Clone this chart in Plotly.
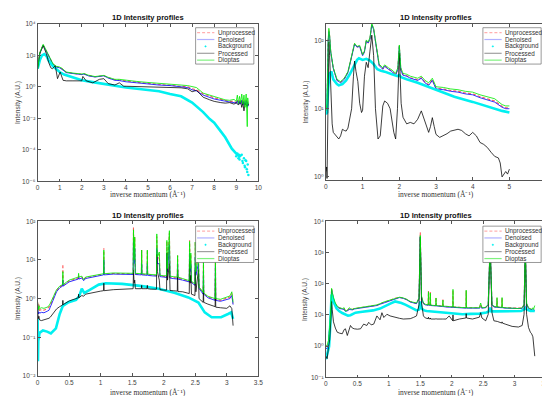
import math
import plotly.graph_objects as go

W, H = 550, 396

# ---------------- Panel 1 (top-left) ----------------
p1_x = [0, 0.1, 0.25, 0.4, 0.5, 0.7, 0.85, 1.0, 1.1, 1.3, 1.6, 2.0, 2.1, 2.3, 2.6, 2.8, 3.0, 3.2, 3.5, 3.7,
        4.0, 4.5, 5.0, 5.5, 6.0, 6.5, 6.8, 7.0, 7.2, 7.5, 7.8, 8.0, 8.3, 8.5, 8.7, 8.9, 9.0, 9.05, 9.1, 9.15,
        9.2, 9.25, 9.3, 9.35, 9.4, 9.45, 9.5, 9.52, 9.55]
p1_dioptas = [14, 150, 500, 200, 93, 28, 20, 18, 15, 8.7, 7.5, 6.5, 7.0, 5.5, 4.5, 5.0, 5.3, 4.0, 3.0, 3.0,
              2.6, 2.2, 1.9, 1.7, 1.6, 1.3, 1.2, 1.0, 0.9, 0.4, 0.3, 0.24, 0.2, 0.15, 0.14, 0.16, 0.12, 0.3, 0.09, 0.25,
              0.1, 0.35, 0.08, 0.3, 0.05, 0.35, 0.003, 0.2, 0.08]
p1_denoised = [14, 140, 430, 180, 85, 26, 18, 16, 13, 8, 7, 6, 6.5, 5, 4.2, 4.8, 5.0, 3.6, 2.6, 2.5,
               2.1, 1.8, 1.5, 1.3, 1.2, 1.0, 0.9, 0.65, 0.55, 0.3, 0.22, 0.17, 0.14, 0.12, 0.11, 0.1, 0.09, 0.13, 0.08, 0.12,
               0.08, 0.14, 0.07, 0.12, 0.07, 0.13, 0.05, 0.1, 0.06]
p1_unprocessed = [14, 145, 450, 185, 88, 27, 19, 17, 14, 8.3, 7.2, 6.2, 6.7, 5.2, 4.4, 5.0, 5.1, 3.8, 2.8, 2.7,
                  2.3, 1.95, 1.65, 1.45, 1.35, 1.15, 1.0, 0.75, 0.65, 0.35, 0.27, 0.2, 0.16, 0.14, 0.12, 0.12, 0.1, 0.15, 0.09, 0.14,
                  0.09, 0.16, 0.08, 0.14, 0.08, 0.15, 0.06, 0.12, 0.07]
p1_proc_x = [0, 0.1, 0.25, 0.4, 0.5, 0.6, 0.67, 0.8, 0.9, 1.02, 1.15, 1.3, 1.6, 1.9, 2.0, 2.05, 2.2, 2.5, 2.8, 3.0,
             3.2, 3.5, 3.7, 3.9, 4.5, 5.0, 5.5, 6.0, 6.5, 6.8, 7.0, 7.2, 7.5, 7.8, 8.0, 8.3, 8.5, 8.7, 8.9, 9.0,
             9.1, 9.2, 9.25, 9.3, 9.35, 9.4, 9.5, 9.55]
p1_processed = [14, 130, 430, 120, 35, 16, 14, 22, 3.3, 8.7, 2.6, 2.4, 2.4, 2.3, 2.4, 4.6, 2.4, 1.8, 3.0, 3.3,
                1.6, 1.3, 1.8, 1.1, 1.05, 1.0, 0.95, 0.91, 0.87, 0.75, 0.49, 0.6, 0.22, 0.15, 0.12, 0.1, 0.093, 0.1, 0.08, 0.1,
                0.07, 0.12, 0.05, 0.1, 0.03, 0.09, 0.06, 0.08]
p1_bg_x = [0, 0.1, 0.2, 0.3, 0.4, 0.5, 0.7, 1.0, 1.2, 1.5, 2.0, 2.5, 3.0, 3.5, 4.0, 4.5, 5.0, 5.5, 6.0, 6.5,
           7.0, 7.2, 7.5, 7.8, 8.0, 8.3, 8.5, 8.8, 9.0, 9.2]
p1_background = [14, 50, 100, 120, 90, 46, 20, 8.7, 6, 4.2, 2.6, 2.0, 1.5, 1.2, 0.91, 0.75, 0.63, 0.52, 0.35, 0.25,
                 0.1, 0.06, 0.025, 0.009, 0.0054, 0.0015, 0.00063, 0.00012, 5.8e-5, 3.5e-5]
p1_bg_tail_x = [9.0, 9.05, 9.1, 9.12, 9.15, 9.2, 9.25, 9.28, 9.3, 9.35, 9.38, 9.4, 9.42, 9.45, 9.48, 9.5, 9.52, 9.55]
p1_bg_tail = [4e-5, 6e-5, 3e-5, 5e-5, 2.5e-5, 4.5e-5, 5e-5, 2e-5, 1.5e-5, 3e-5, 1e-5, 8e-6, 2.2e-5, 2e-5, 6e-6, 4e-6, 1.2e-5, 2.6e-6]

# ---------------- Panel 2 (top-right) ----------------
p2_x = [0, 0.03, 0.06, 0.08, 0.1, 0.13, 0.2, 0.3, 0.4, 0.5, 0.6, 0.7, 0.78, 0.85, 0.92, 1.0, 1.05, 1.1, 1.15, 1.2,
        1.25, 1.3, 1.38, 1.45, 1.55, 1.6, 1.7, 1.8, 1.9, 1.96, 2.0, 2.04, 2.1, 2.2, 2.3, 2.4, 2.5, 2.6, 2.7, 2.8,
        2.9, 3.0, 3.2, 3.4, 3.6, 3.8, 4.0, 4.2, 4.4, 4.6, 4.8, 4.9, 5.0]
p2_dioptas = [9.3, 12, 100, 151, 120, 70, 40, 27, 25, 28, 35, 60, 91, 82, 85, 62, 70, 102, 95, 110,
              178, 150, 80, 45, 40, 44, 40, 37, 33, 40, 86, 40, 33, 32, 30, 29, 28, 30, 26, 24,
              28, 21, 20.5, 19.5, 19, 18, 17.5, 16, 15, 14, 11.5, 11, 11]
p2_denoised = [9.0, 11, 95, 135, 115, 68, 39, 26, 24, 27, 34, 58, 88, 80, 82, 60, 68, 98, 92, 105,
               170, 145, 78, 43, 38, 42, 38, 35, 31, 38, 82, 37, 31, 30, 28, 27, 26, 28, 24, 22,
               26, 19.5, 19, 18, 17.5, 16.5, 16, 14.5, 13.5, 12.5, 10.5, 10, 10]
p2_unprocessed = [9.1, 11.2, 97, 140, 117, 69, 39.5, 26.5, 24.5, 27.5, 34.5, 59, 89, 81, 83, 61, 69, 99, 93, 107,
                  173, 147, 79, 44, 38.5, 42.5, 38.5, 35.5, 31.5, 38.5, 83, 37.5, 31.5, 30.5, 28.5, 27.5, 26.5, 28.5, 24.5, 22.5,
                  26.5, 20, 19.5, 18.5, 18, 17, 16.5, 15, 14, 13, 10.8, 10.3, 10.3]
p2_bg_x = [0, 0.03, 0.06, 0.1, 0.15, 0.2, 0.3, 0.35, 0.45, 0.55, 0.65, 0.75, 0.85, 0.9, 1.0, 1.1, 1.2, 1.3, 1.4, 1.5,
           1.6, 1.8, 1.95, 2.0, 2.05, 2.2, 2.5, 3.0, 3.5, 4.0, 4.5, 4.8, 5.0]
p2_background = [8.3, 8.8, 20, 33, 35, 27, 23, 22, 23, 26, 32, 42, 52, 55, 52, 54, 51, 45, 38, 36,
                 35, 32, 30, 31, 29, 27, 24, 19, 15, 12.6, 10.3, 9.3, 8.8]
p2_proc_x = [0, 0.02, 0.03, 0.05, 0.07, 0.08, 0.1, 0.13, 0.17, 0.2, 0.25, 0.3, 0.35, 0.4, 0.45, 0.5, 0.55, 0.6, 0.7, 0.75,
             0.78, 0.82, 0.87, 0.92, 0.97, 1.0, 1.05, 1.1, 1.15, 1.2, 1.25, 1.3, 1.35, 1.42, 1.48, 1.55, 1.6, 1.68, 1.75, 1.85,
             1.9, 1.95, 2.0, 2.05, 2.1, 2.2, 2.3, 2.4, 2.5, 2.6, 2.7, 2.8, 2.85, 2.9, 2.95, 3.0, 3.1, 3.2, 3.3, 3.4,
             3.5, 3.6, 3.7, 3.8, 3.9, 4.0, 4.1, 4.2, 4.3, 4.4, 4.5, 4.6, 4.7, 4.75, 4.8, 4.85, 4.9, 4.95, 5.0]
p2_processed = [1.2, 1.4, 0.95, 10, 70, 95, 60, 20, 6, 4.5, 4.2, 3.8, 3.6, 4.0, 5.0, 4.8, 4.7, 5.2, 10, 30,
                50, 35, 25, 12, 8.8, 9.5, 30, 48, 40, 70, 120, 60, 10, 3.6, 4.0, 11, 13, 12, 10, 4.5,
                3.6, 10, 65, 12, 7.5, 6.0, 6.3, 6.0, 7.0, 9.3, 6.5, 4.5, 5.5, 7.4, 5.5, 4.2, 3.8, 4.0, 4.3, 4.7,
                4.8, 5.0, 4.8, 4.3, 4.0, 4.5, 4.0, 3.2, 3.0, 2.7, 2.3, 2.0, 1.9, 1.6, 1.0, 1.1, 1.2, 1.1, 1.3]

# ---------------- Panel 3 (bottom-left) ----------------
p3_x = [0, 0.01, 0.02, 0.03, 0.06, 0.1, 0.15, 0.18, 0.2, 0.25, 0.3, 0.35,
        0.395, 0.4, 0.405,
        0.5, 0.6, 0.645, 0.65, 0.655, 0.7, 0.73, 0.76, 0.8, 0.9, 1.0,
        1.045, 1.05, 1.055,
        1.2, 1.35, 1.5,
        1.515, 1.52, 1.53, 1.54, 1.55,
        1.645, 1.65, 1.655,
        1.735, 1.74, 1.745,
        1.8,
        1.885, 1.89, 1.9, 1.93, 1.94,
        2.0,
        2.045, 2.05, 2.06, 2.09, 2.1,
        2.15,
        2.215, 2.22, 2.225,
        2.3,
        2.405, 2.41, 2.42, 2.43, 2.44,
        2.495, 2.5, 2.51, 2.55, 2.56,
        2.6,
        2.625, 2.63, 2.635,
        2.7,
        2.815, 2.82, 2.825,
        2.9, 3.0, 3.05, 3.08, 3.1]
p3_dioptas = [0.79, 0.5, 0.65, 0.55, 0.58, 0.56, 0.6, 0.65, 0.75, 1.15, 1.7, 2.1,
              2.3, 5.0, 2.3,
              3.0, 3.4, 3.6, 4.5, 3.6, 3.8, 3.1, 3.6, 3.7, 4.0, 4.3,
              4.4, 18, 4.4,
              4.6, 4.6, 4.5,
              4.5, 60, 10, 39, 4.5,
              4.4, 18, 4.4,
              4.3, 18, 4.3,
              4.2,
              4.1, 47, 12, 16, 4.0,
              3.9,
              3.9, 32, 6, 57, 3.8,
              3.7,
              3.6, 13, 3.6,
              3.3,
              2.9, 30, 6, 15, 2.8,
              2.4, 29, 5, 15, 2.0,
              1.6,
              1.45, 9, 1.4,
              1.15,
              1.0, 14, 1.0,
              0.96, 1.07, 1.17, 1.5, 0.8]
p3_unprocessed = [0.8, 0.55, 0.7, 0.5, 0.52, 0.5, 0.55, 0.6, 0.68, 1.05, 1.6, 2.0,
                  2.2, 7.7, 2.2,
                  2.85, 3.2, 3.4, 4.0, 3.4, 3.6, 3.0, 3.45, 3.55, 3.85, 4.15,
                  4.25, 20, 4.25,
                  4.45, 4.45, 4.35,
                  4.35, 69, 10, 39, 4.35,
                  4.25, 18, 4.25,
                  4.15, 18, 4.15,
                  4.05,
                  3.95, 40, 10, 14, 3.85,
                  3.75,
                  3.7, 30, 6, 50, 3.6,
                  3.5,
                  3.4, 13, 3.4,
                  3.15,
                  2.8, 32, 6, 14, 2.7,
                  2.3, 29, 5, 14, 1.95,
                  1.55,
                  1.4, 9, 1.35,
                  1.1,
                  0.95, 14, 0.95,
                  0.9, 1.0, 1.1, 1.35, 0.75]
p3_denoised = [0.72, 0.4, 0.45, 0.42, 0.44, 0.43, 0.47, 0.5, 0.6, 0.95, 1.5, 1.9,
               2.1, 3.0, 2.1,
               2.7, 3.0, 3.2, 3.5, 3.2, 3.4, 2.9, 3.3, 3.4, 3.7, 4.0,
               4.1, 10, 4.1,
               4.3, 4.3, 4.2,
               4.2, 30, 8, 20, 4.2,
               4.1, 8, 4.1,
               4.0, 8, 4.0,
               3.9,
               3.8, 20, 8, 8, 3.7,
               3.6,
               3.5, 15, 5, 25, 3.4,
               3.3,
               3.2, 8, 3.2,
               3.0,
               2.7, 15, 5, 8, 2.6,
               2.2, 12, 4, 8, 1.85,
               1.45,
               1.3, 5, 1.3,
               1.05,
               0.9, 7, 0.9,
               0.85, 0.95, 1.0, 1.2, 0.7]
p3_processed = [0.5, 0.3, 0.35, 0.28, 0.27, 0.28, 0.3, 0.31, 0.33, 0.42, 0.54, 0.62,
                0.68, 0.9, 0.7,
                0.87, 1.0, 1.05, 1.3, 1.05, 1.2, 1.15, 1.3, 1.35, 1.45, 1.56,
                1.6, 2.5, 1.6,
                1.7, 1.75, 1.8,
                1.8, 5.5, 2.5, 3.0, 1.8,
                1.8, 2.2, 1.8,
                1.8, 2.2, 1.8,
                1.75,
                1.75, 14, 5, 3, 1.7,
                1.66,
                1.65, 15, 3, 8, 1.62,
                1.6,
                1.56, 5.5, 1.52,
                1.5,
                1.35, 9, 2.5, 4, 1.3,
                1.2, 5.5, 1.5, 5.5, 1.0,
                0.87,
                0.8, 2.0, 0.8,
                0.72,
                0.62, 3.2, 0.6,
                0.58, 0.56, 0.65, 0.55, 0.2]
p3_bg_x = [0, 0.005, 0.01, 0.03, 0.084, 0.15, 0.21, 0.29, 0.35, 0.4, 0.48, 0.61, 0.66, 0.7, 0.74, 0.82, 0.97, 1.08, 1.34,
           1.66, 1.92, 2.18, 2.39, 2.55, 2.65, 2.76, 2.91, 3.02, 3.07, 3.1]
p3_background = [0.3, 0.024, 0.08, 0.13, 0.15, 0.14, 0.125, 0.17, 0.4, 0.65, 0.79, 0.93, 1.17, 1.8, 1.4, 1.66, 2.3, 2.5, 2.4,
                 2.1, 1.8, 1.4, 1.07, 0.79, 0.44, 0.33, 0.33, 0.4, 0.44, 0.3]

# ---------------- Panel 4 (bottom-right) ----------------
p4_x = [0, 0.02, 0.04, 0.06, 0.08, 0.09, 0.1, 0.12, 0.15, 0.18, 0.22, 0.26, 0.29, 0.31, 0.34, 0.37, 0.39, 0.42, 0.45, 0.5,
        0.55, 0.6, 0.65, 0.68, 0.72, 0.76, 0.81, 0.86, 0.89, 0.92, 0.97, 1.02, 1.1, 1.17, 1.23, 1.28, 1.34, 1.39, 1.44, 1.48,
        1.5, 1.52, 1.55, 1.58, 1.625, 1.63, 1.635, 1.655, 1.66, 1.665, 1.745, 1.75, 1.755, 1.855, 1.86, 1.865, 1.91, 1.96, 2.015, 2.02,
        2.025, 2.12, 2.225, 2.23, 2.235, 2.33, 2.44, 2.46, 2.48, 2.54, 2.58, 2.61, 2.64, 2.67, 2.715, 2.72, 2.725, 2.795, 2.8, 2.805,
        2.85, 2.96, 3.06, 3.12, 3.15, 3.17, 3.19, 3.22, 3.25, 3.27, 3.29, 3.3, 3.32]
p4_dioptas = [0.98, 1.1, 1.5, 4, 20, 71, 55, 35, 24, 19, 17, 16, 17, 13.3, 14, 17, 16, 15, 16, 16.5,
              17, 18, 18.5, 19, 19, 20, 21, 23, 25, 26, 28, 30, 35, 37, 35, 32, 27, 25, 24, 35,
              3500, 40, 24, 22, 21, 55, 21, 21, 50, 20.5, 20, 35, 20, 19, 30, 19, 19, 18.5, 18, 66,
              18, 17.5, 17, 62, 17, 17, 17, 24, 17, 17.5, 22, 1800, 22, 19, 18, 36, 18, 17.5, 36, 17.5,
              17, 16.5, 16, 17, 22, 1500, 24, 17, 16, 15, 17, 15, 20]
p4_denoised = [0.9, 0.8, 1.2, 3.5, 18, 65, 50, 32, 22, 18, 16, 15, 15, 13, 13.5, 15, 15, 14.5, 15.5, 16,
               16.5, 17, 17.5, 18, 18.5, 19, 20, 22, 23, 25, 27, 29, 33, 36, 34, 31, 26, 24, 23, 33,
               3200, 35, 23, 21, 20.5, 22, 20.5, 20.5, 22, 20, 19.5, 21, 19.5, 18.5, 19, 18.5, 18, 18, 17.5, 19,
               17.5, 17, 16.5, 18, 16.5, 16.5, 16.5, 18, 16.5, 17, 21, 1700, 21, 18, 17.5, 18.5, 17.5, 17, 18, 17,
               16.5, 16, 15.5, 16, 21, 1400, 22, 16, 15, 14.5, 14, 14, 14]
p4_unprocessed = [0.95, 1.0, 1.4, 3.8, 19, 70, 52, 33, 23, 18.5, 16.5, 15.5, 15.5, 13.5, 14, 15.5, 15.5, 15, 16, 16.5,
                  17, 17.5, 18, 18.5, 19, 19.5, 20.5, 22.5, 23.5, 25.5, 27.5, 29.5, 34, 36.5, 34.5, 31.5, 26.5, 24.5, 23.5, 34,
                  4500, 38, 23.5, 21.5, 21, 58, 21, 21, 55, 20.5, 20, 36, 20, 19, 31, 19, 18.5, 18.5, 18, 62,
                  18, 17.5, 17, 60, 17, 17, 17, 22, 17, 17.5, 21.5, 2000, 21.5, 18.5, 18, 34, 18, 17.5, 35, 17.5,
                  17, 16.5, 16, 16.5, 21.5, 1600, 23, 16.5, 15.5, 15, 15, 14.5, 14]
p4_processed = [0.48, 0.4, 0.9, 1.6, 8, 27, 15, 6, 3.8, 2.8, 2.6, 2.5, 3.4, 3.6, 2.2, 3.5, 4.6, 3.8, 3.6, 3.5,
                3.6, 5.1, 4.6, 5.8, 4.8, 5.1, 9.3, 7, 11.8, 8.3, 10.5, 9.3, 8.3, 7.8, 7.4, 7.4, 7.6, 8.3, 9.3, 21,
                3100, 24, 9.3, 8, 7.6, 8.5, 7.6, 7.5, 8, 7.4, 7.4, 7.6, 7.4, 7.4, 7.5, 7.4, 7.4, 9.3, 6.5, 10,
                6.5, 7.4, 8, 11, 8, 7.4, 8.5, 11.8, 8, 6.5, 10.5, 1700, 11.8, 6.5, 6.2, 6.5, 6.2, 5.5, 6, 5.5,
                5.1, 4.3, 4.1, 4.6, 10.5, 1400, 10.5, 4, 2.8, 2.5, 2.0, 1.2, 0.48]
p4_bg_x = [0, 0.03, 0.05, 0.07, 0.09, 0.11, 0.13, 0.17, 0.21, 0.26, 0.31, 0.35, 0.39, 0.43, 0.47, 0.55, 0.65, 0.75, 0.86, 0.97,
           1.04, 1.1, 1.15, 1.2, 1.27, 1.34, 1.44, 1.48, 1.5, 1.52, 1.56, 1.6, 1.75, 1.91, 2.05, 2.17, 2.3, 2.44, 2.55, 2.59,
           2.61, 2.63, 2.7, 2.8, 2.96, 3.1, 3.15, 3.17, 3.19, 3.25, 3.32]
p4_background = [0.38, 0.6, 0.98, 5, 45, 35, 24, 16, 13.3, 11.5, 10, 9.5, 9.8, 10.5, 11.8, 12.5, 13.3, 14, 16, 21,
                 24, 27, 26, 24, 21, 18, 14, 15, 27, 16, 14, 13.3, 12.5, 11.8, 11, 10.5, 10.8, 11, 12, 13,
                 17, 13, 13, 13, 13.3, 13.3, 15, 17, 15, 13.3, 13.3]

# ---------------- Labels / ticks ----------------
series_names = ["Unprocessed", "Denoised", "Background", "Processed", "Dioptas"]
title_text = "1D Intensity profiles"
xlabel_text = "inverse momentum (Å⁻¹)"
ylabel_text = "Intensity (A.U.)"
p1_yticks = [-6, -4, -2, 0, 2, 4]
p2_yticks = [0, 1, 2]
p3_yticks = [-2, -1, 0, 1, 2]
p4_yticks = [-1, 0, 1, 2, 3, 4]
p1_xticks = [0, 1, 2, 3, 4, 5, 6, 7, 8, 9, 10]
p2_xticks = [0, 1, 2, 3, 4, 5, 6]
p34_xticks = [0, 0.5, 1, 1.5, 2, 2.5, 3, 3.5]

SUP = str.maketrans("-0123456789", "⁻⁰¹²³⁴⁵⁶⁷⁸⁹")


def pow_label(e):
    return "10" + str(e).translate(SUP)


# ---------------- Styles ----------------
C_UNP = "rgba(255,60,60,0.85)"
C_DEN = "rgba(30,30,255,0.9)"
C_BG = "rgb(0,240,240)"
C_PRO = "rgba(0,0,0,0.85)"
C_DIO = "rgba(0,235,0,0.9)"
AX_C = "#555555"


def px(x):
    return x / W


def py(y):
    return 1 - y / H


panels = [
    dict(n="", dom=(28, 251.5, 12, 172.5), xr=[0, 10], yr=[-6, 4], yt=p1_yticks, xt=p1_xticks,
         legbox=(188, 16), xlab_y=186),
    dict(n="2", dom=(320, 543, 12, 171), xr=[0, 6], yr=[math.log10(0.902), math.log10(176)], yt=p2_yticks,
         xt=p2_xticks, legbox=(479, 16), xlab_y=186),
    dict(n="3", dom=(28, 251.5, 213, 370.5), xr=[0, 3.5], yr=[-2, 2], yt=p3_yticks, xt=p34_xticks,
         legbox=(188, 218), xlab_y=387.5),
    dict(n="4", dom=(320, 543, 213, 372), xr=[0, 3.5], yr=[-1, 4], yt=p4_yticks, xt=p34_xticks,
         legbox=(479, 218), xlab_y=387.5),
]

data = [
    dict(unp=(p1_x, p1_unprocessed), den=(p1_x, p1_denoised), bg=(p1_bg_x, p1_background),
         bgtail=(p1_bg_tail_x, p1_bg_tail), pro=(p1_proc_x, p1_processed), dio=(p1_x, p1_dioptas)),
    dict(unp=(p2_x, p2_unprocessed), den=(p2_x, p2_denoised), bg=(p2_bg_x, p2_background),
         pro=(p2_proc_x, p2_processed), dio=(p2_x, p2_dioptas)),
    dict(unp=(p3_x, p3_unprocessed), den=(p3_x, p3_denoised), bg=(p3_bg_x, p3_background),
         pro=(p3_x, p3_processed), dio=(p3_x, p3_dioptas)),
    dict(unp=(p4_x, p4_unprocessed), den=(p4_x, p4_denoised), bg=(p4_bg_x, p4_background),
         pro=(p4_x, p4_processed), dio=(p4_x, p4_dioptas)),
]

for d in data:
    for k, (xs, ys) in d.items():
        assert len(xs) == len(ys), (k, len(xs), len(ys))

fig = go.Figure()
shapes = []
annotations = []
layout_axes = {}

for p, d in zip(panels, data):
    n = p["n"]
    xa, ya = "x" + n, "y" + n
    x0, x1, y0, y1 = p["dom"]
    common = dict(showline=True, linecolor=AX_C, linewidth=0.8, mirror="allticks", ticks="inside",
                  ticklen=3, tickwidth=0.6, tickcolor=AX_C, showgrid=False, zeroline=False,
                  tickfont=dict(family="Liberation Sans, DejaVu Sans, Arial", size=6.5, color="#444444"))
    layout_axes["xaxis" + n] = dict(common, domain=[px(x0), px(x1)], range=p["xr"], anchor=ya,
                                    tickvals=p["xt"], ticktext=[("%g" % v) for v in p["xt"]])
    layout_axes["yaxis" + n] = dict(common, domain=[py(y1), py(y0)], range=p["yr"], type="log", anchor=xa,
                                    tickvals=[10 ** e for e in p["yt"]],
                                    ticktext=[pow_label(e) for e in p["yt"]])

    fig.add_trace(go.Scatter(x=d["unp"][0], y=d["unp"][1], mode="lines", name=series_names[0], xaxis=xa, yaxis=ya,
                             line=dict(color=C_UNP, width=1.1, dash="3px,2px")))
    fig.add_trace(go.Scatter(x=d["den"][0], y=d["den"][1], mode="lines", name=series_names[1], xaxis=xa, yaxis=ya,
                             line=dict(color=C_DEN, width=1.0)))
    fig.add_trace(go.Scatter(x=d["bg"][0], y=d["bg"][1], mode="lines", name=series_names[2], xaxis=xa, yaxis=ya,
                             line=dict(color=C_BG, width=2.6)))
    if "bgtail" in d:
        fig.add_trace(go.Scatter(x=d["bgtail"][0], y=d["bgtail"][1], mode="markers", name=series_names[2],
                                 xaxis=xa, yaxis=ya, marker=dict(color=C_BG, size=2.5)))
    fig.add_trace(go.Scatter(x=d["pro"][0], y=d["pro"][1], mode="lines", name=series_names[3], xaxis=xa, yaxis=ya,
                             line=dict(color=C_PRO, width=0.9)))
    fig.add_trace(go.Scatter(x=d["dio"][0], y=d["dio"][1], mode="lines", name=series_names[4], xaxis=xa, yaxis=ya,
                             line=dict(color=C_DIO, width=0.9)))

    cx = (x0 + x1) / 2
    annotations.append(dict(text="<b>%s</b>" % title_text, x=px(cx), y=py(y0 - 6), xref="paper", yref="paper",
                            showarrow=False, xanchor="center", yanchor="middle",
                            font=dict(family="Liberation Sans, Arial", size=7.5, color="#111111")))
    annotations.append(dict(text=xlabel_text, x=px(cx), y=py(p["xlab_y"]), xref="paper", yref="paper",
                            showarrow=False, xanchor="center", yanchor="middle",
                            font=dict(family="Liberation Serif, Times New Roman", size=7.5, color="#333333")))
    annotations.append(dict(text=ylabel_text, x=px(x0 - 20.5), y=py((y0 + y1) / 2), xref="paper", yref="paper",
                            showarrow=False, xanchor="center", yanchor="middle", textangle=-90,
                            font=dict(family="Liberation Sans, Arial", size=6.5, color="#444444")))

    # legend (drawn as box + samples + text)
    lx, ly = p["legbox"]
    shapes.append(dict(type="rect", xref="paper", yref="paper", x0=px(lx), x1=px(lx + 59), y0=py(ly + 37),
                       y1=py(ly), line=dict(color=AX_C, width=0.6), fillcolor="white", layer="above"))
    leg_styles = [
        dict(color="rgba(255,80,80,0.45)", dash="3px,2px", width=1.2),
        dict(color="rgba(60,60,255,0.4)", dash="solid", width=1.2),
        None,
        dict(color="rgba(0,0,0,0.45)", dash="solid", width=1.0),
        dict(color="rgba(0,230,0,0.5)", dash="solid", width=1.2),
    ]
    for i, name in enumerate(series_names):
        yy = ly + 5 + 7 * i
        if leg_styles[i] is None:
            shapes.append(dict(type="circle", xref="paper", yref="paper", x0=px(lx + 9.3), x1=px(lx + 10.8),
                               y0=py(yy + 0.75), y1=py(yy - 0.75), line=dict(color=C_BG, width=0.5),
                               fillcolor=C_BG, layer="above"))
        else:
            shapes.append(dict(type="line", xref="paper", yref="paper", x0=px(lx + 1.5), x1=px(lx + 19),
                               y0=py(yy), y1=py(yy), line=leg_styles[i], layer="above"))
        annotations.append(dict(text=name, x=px(lx + 20.5), y=py(yy), xref="paper", yref="paper",
                                showarrow=False, xanchor="left", yanchor="middle",
                                font=dict(family="Liberation Sans, Arial", size=6.3, color="#333333")))

fig.update_layout(width=W, height=H, autosize=False, margin=dict(l=0, r=0, t=0, b=0),
                  paper_bgcolor="white", plot_bgcolor="white", showlegend=False,
                  shapes=shapes, annotations=annotations, **layout_axes)

fig.write_html("out.html")
